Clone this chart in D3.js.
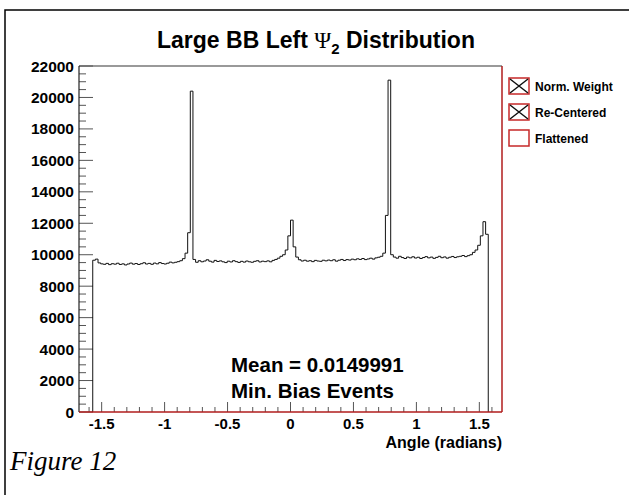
<!DOCTYPE html>
<html>
<head>
<meta charset="utf-8">
<script src="https://cdn.jsdelivr.net/npm/d3@7"></script>
<style>
  body { margin: 0; background: #fff; }
  svg text { font-family: "Liberation Sans", Arial, sans-serif; font-weight: bold; }
</style>
</head>
<body>
<div id="chart"></div>
<script>
// data: Psi_2 histogram, 150 bins from -pi/2 to pi/2
const binLo = -Math.PI / 2;
const binHi = Math.PI / 2;
const counts = [
  9650, 9720, 9480, 9420, 9390, 9450, 9370, 9430, 9400, 9460,
  9380, 9420, 9350, 9410, 9470, 9400, 9440, 9380, 9430, 9490,
  9410, 9450, 9390, 9470, 9420, 9500, 9440, 9410, 9460, 9530,
  9480, 9520, 9560, 9620, 9750, 10100, 11400, 20400, 9700, 9520,
  9620, 9550, 9600, 9680, 9590, 9530, 9640, 9570, 9610, 9550,
  9500, 9590, 9540, 9620, 9560, 9510, 9580, 9530, 9600, 9550,
  9520, 9580, 9620, 9540, 9590, 9560, 9610, 9550, 9640, 9700,
  9780, 9900, 10000, 10300, 11200, 12200, 10500, 9850, 9680, 9600,
  9650, 9590, 9620, 9560, 9640, 9600, 9580, 9650, 9610, 9660,
  9620, 9680, 9590, 9650, 9700, 9630, 9690, 9660, 9720, 9680,
  9740, 9700, 9760, 9690, 9730, 9780, 9720, 9800, 9840, 9900,
  10100, 12500, 21100, 10000, 9850, 9780, 9900, 9820, 9760, 9850,
  9800, 9870, 9790, 9840, 9760, 9820, 9880, 9800, 9850, 9770,
  9830, 9900, 9810, 9860, 9780, 9840, 9890, 9820, 9870, 9900,
  9950, 9880, 9940, 10000, 10150, 10300, 10600, 11200, 12100, 11300
];
const yTicks = [0, 2000, 4000, 6000, 8000, 10000, 12000, 14000, 16000, 18000, 20000, 22000];
const xTicks = [-1.5, -1, -0.5, 0, 0.5, 1, 1.5];
const legendItems = ["Norm. Weight", "Re-Centered", "Flattened"];
const legendCross = [true, true, false];
const notes = ["Mean = 0.0149991", "Min. Bias Events"];

const W = 629, H = 495;
const plot = { left: 79, right: 502, top: 66, bottom: 412 };

const svg = d3.select("#chart").append("svg").attr("width", W).attr("height", H);

// outer frame (top + left only visible)
svg.append("path")
  .attr("d", "M5,495 L5,10 L629,10")
  .attr("fill", "none").attr("stroke", "#000").attr("stroke-width", 1.5);

const x = d3.scaleLinear([-1.68, 1.68], [plot.left, plot.right]);
const y = d3.scaleLinear([0, 22000], [plot.bottom, plot.top]);

// title
const title = svg.append("text")
  .attr("x", 316).attr("y", 48)
  .attr("text-anchor", "middle")
  .style("font-size", "23px");
title.append("tspan").text("Large BB Left  ");
title.append("tspan")
  .style("font-family", "'Liberation Serif', 'DejaVu Serif', serif")
  .style("font-weight", "normal")
  .text("\u03A8");
title.append("tspan").attr("dy", 6).style("font-size", "15px").text("2");
title.append("tspan").attr("dy", -6).text(" Distribution");

// frame of the pad
svg.append("line")
  .attr("x1", plot.left).attr("x2", plot.right)
  .attr("y1", plot.top).attr("y2", plot.top)
  .attr("stroke", "#777").attr("stroke-width", 1.5);
svg.append("line")
  .attr("x1", plot.right).attr("x2", plot.right)
  .attr("y1", plot.top).attr("y2", plot.bottom)
  .attr("stroke", "#b01c1c").attr("stroke-width", 1.5);

// y axis ticks (inward)
const yMinor = d3.range(0, 22001, 500);
svg.append("g").selectAll("line")
  .data(yMinor)
  .join("line")
  .attr("x1", plot.left)
  .attr("x2", (d) => plot.left + (d % 2000 === 0 ? 14 : 7))
  .attr("y1", (d) => y(d)).attr("y2", (d) => y(d))
  .attr("stroke", "#555").attr("stroke-width", 1);
svg.append("g").selectAll("text")
  .data(yTicks)
  .join("text")
  .attr("x", plot.left - 5)
  .attr("y", (d) => y(d) + 5.5)
  .attr("text-anchor", "end")
  .style("font-size", "15.5px")
  .text((d) => d);

// x axis ticks (inward)
const xMinor = d3.range(-16, 17).map((d) => d / 10);
svg.append("g").selectAll("line")
  .data(xMinor)
  .join("line")
  .attr("x1", (d) => x(d)).attr("x2", (d) => x(d))
  .attr("y1", plot.bottom)
  .attr("y2", (d) => plot.bottom - (Math.abs(Math.round(d * 10)) % 5 === 0 ? 10 : 5))
  .attr("stroke", "#555").attr("stroke-width", 1);
svg.append("g").selectAll("text")
  .data(xTicks)
  .join("text")
  .attr("x", (d) => x(d))
  .attr("y", plot.bottom + 17)
  .attr("text-anchor", "middle")
  .style("font-size", "15px")
  .text((d) => d);

svg.append("text")
  .attr("x", plot.right).attr("y", 448)
  .attr("text-anchor", "end")
  .style("font-size", "16px")
  .text("Angle (radians)");

// histogram step line
const bw = (binHi - binLo) / counts.length;
const pts = [[binLo, 0]];
counts.forEach((c, i) => {
  pts.push([binLo + i * bw, c]);
  pts.push([binLo + (i + 1) * bw, c]);
});
pts.push([binHi, 0]);
svg.append("path")
  .datum(pts)
  .attr("fill", "none")
  .attr("stroke", "#111")
  .attr("stroke-width", 1)
  .attr("d", d3.line().x((d) => x(d[0])).y((d) => y(d[1])));

// axes lines on top
svg.append("line")
  .attr("x1", plot.left).attr("x2", plot.left)
  .attr("y1", plot.top).attr("y2", plot.bottom)
  .attr("stroke", "#222").attr("stroke-width", 1.2);
svg.append("line")
  .attr("x1", plot.left).attr("x2", plot.right)
  .attr("y1", plot.bottom).attr("y2", plot.bottom)
  .attr("stroke", "#b01c1c").attr("stroke-width", 1.5);

// notes
svg.append("g").selectAll("text")
  .data(notes)
  .join("text")
  .attr("x", 231)
  .attr("y", (d, i) => 372 + i * 26)
  .style("font-size", "20.5px")
  .text((d) => d);

// legend
const leg = svg.append("g").selectAll("g")
  .data(legendItems)
  .join("g")
  .attr("transform", (d, i) => `translate(509,${78 + i * 26})`);
leg.append("rect")
  .attr("width", 20).attr("height", 16)
  .attr("fill", "none").attr("stroke", "#c62828").attr("stroke-width", 1.5);
leg.filter((d, i) => legendCross[i]).append("path")
  .attr("d", "M1,1 L19,15 M19,1 L1,15")
  .attr("stroke", "#111").attr("stroke-width", 1.5);
leg.append("text")
  .attr("x", 26).attr("y", 12.5)
  .style("font-size", "12px")
  .text((d) => d);

// caption
svg.append("text")
  .attr("x", 10).attr("y", 470)
  .style("font-family", "'Liberation Serif', 'Times New Roman', serif")
  .style("font-weight", "normal")
  .style("font-style", "italic")
  .style("font-size", "27px")
  .text("Figure 12");
</script>
</body>
</html>
